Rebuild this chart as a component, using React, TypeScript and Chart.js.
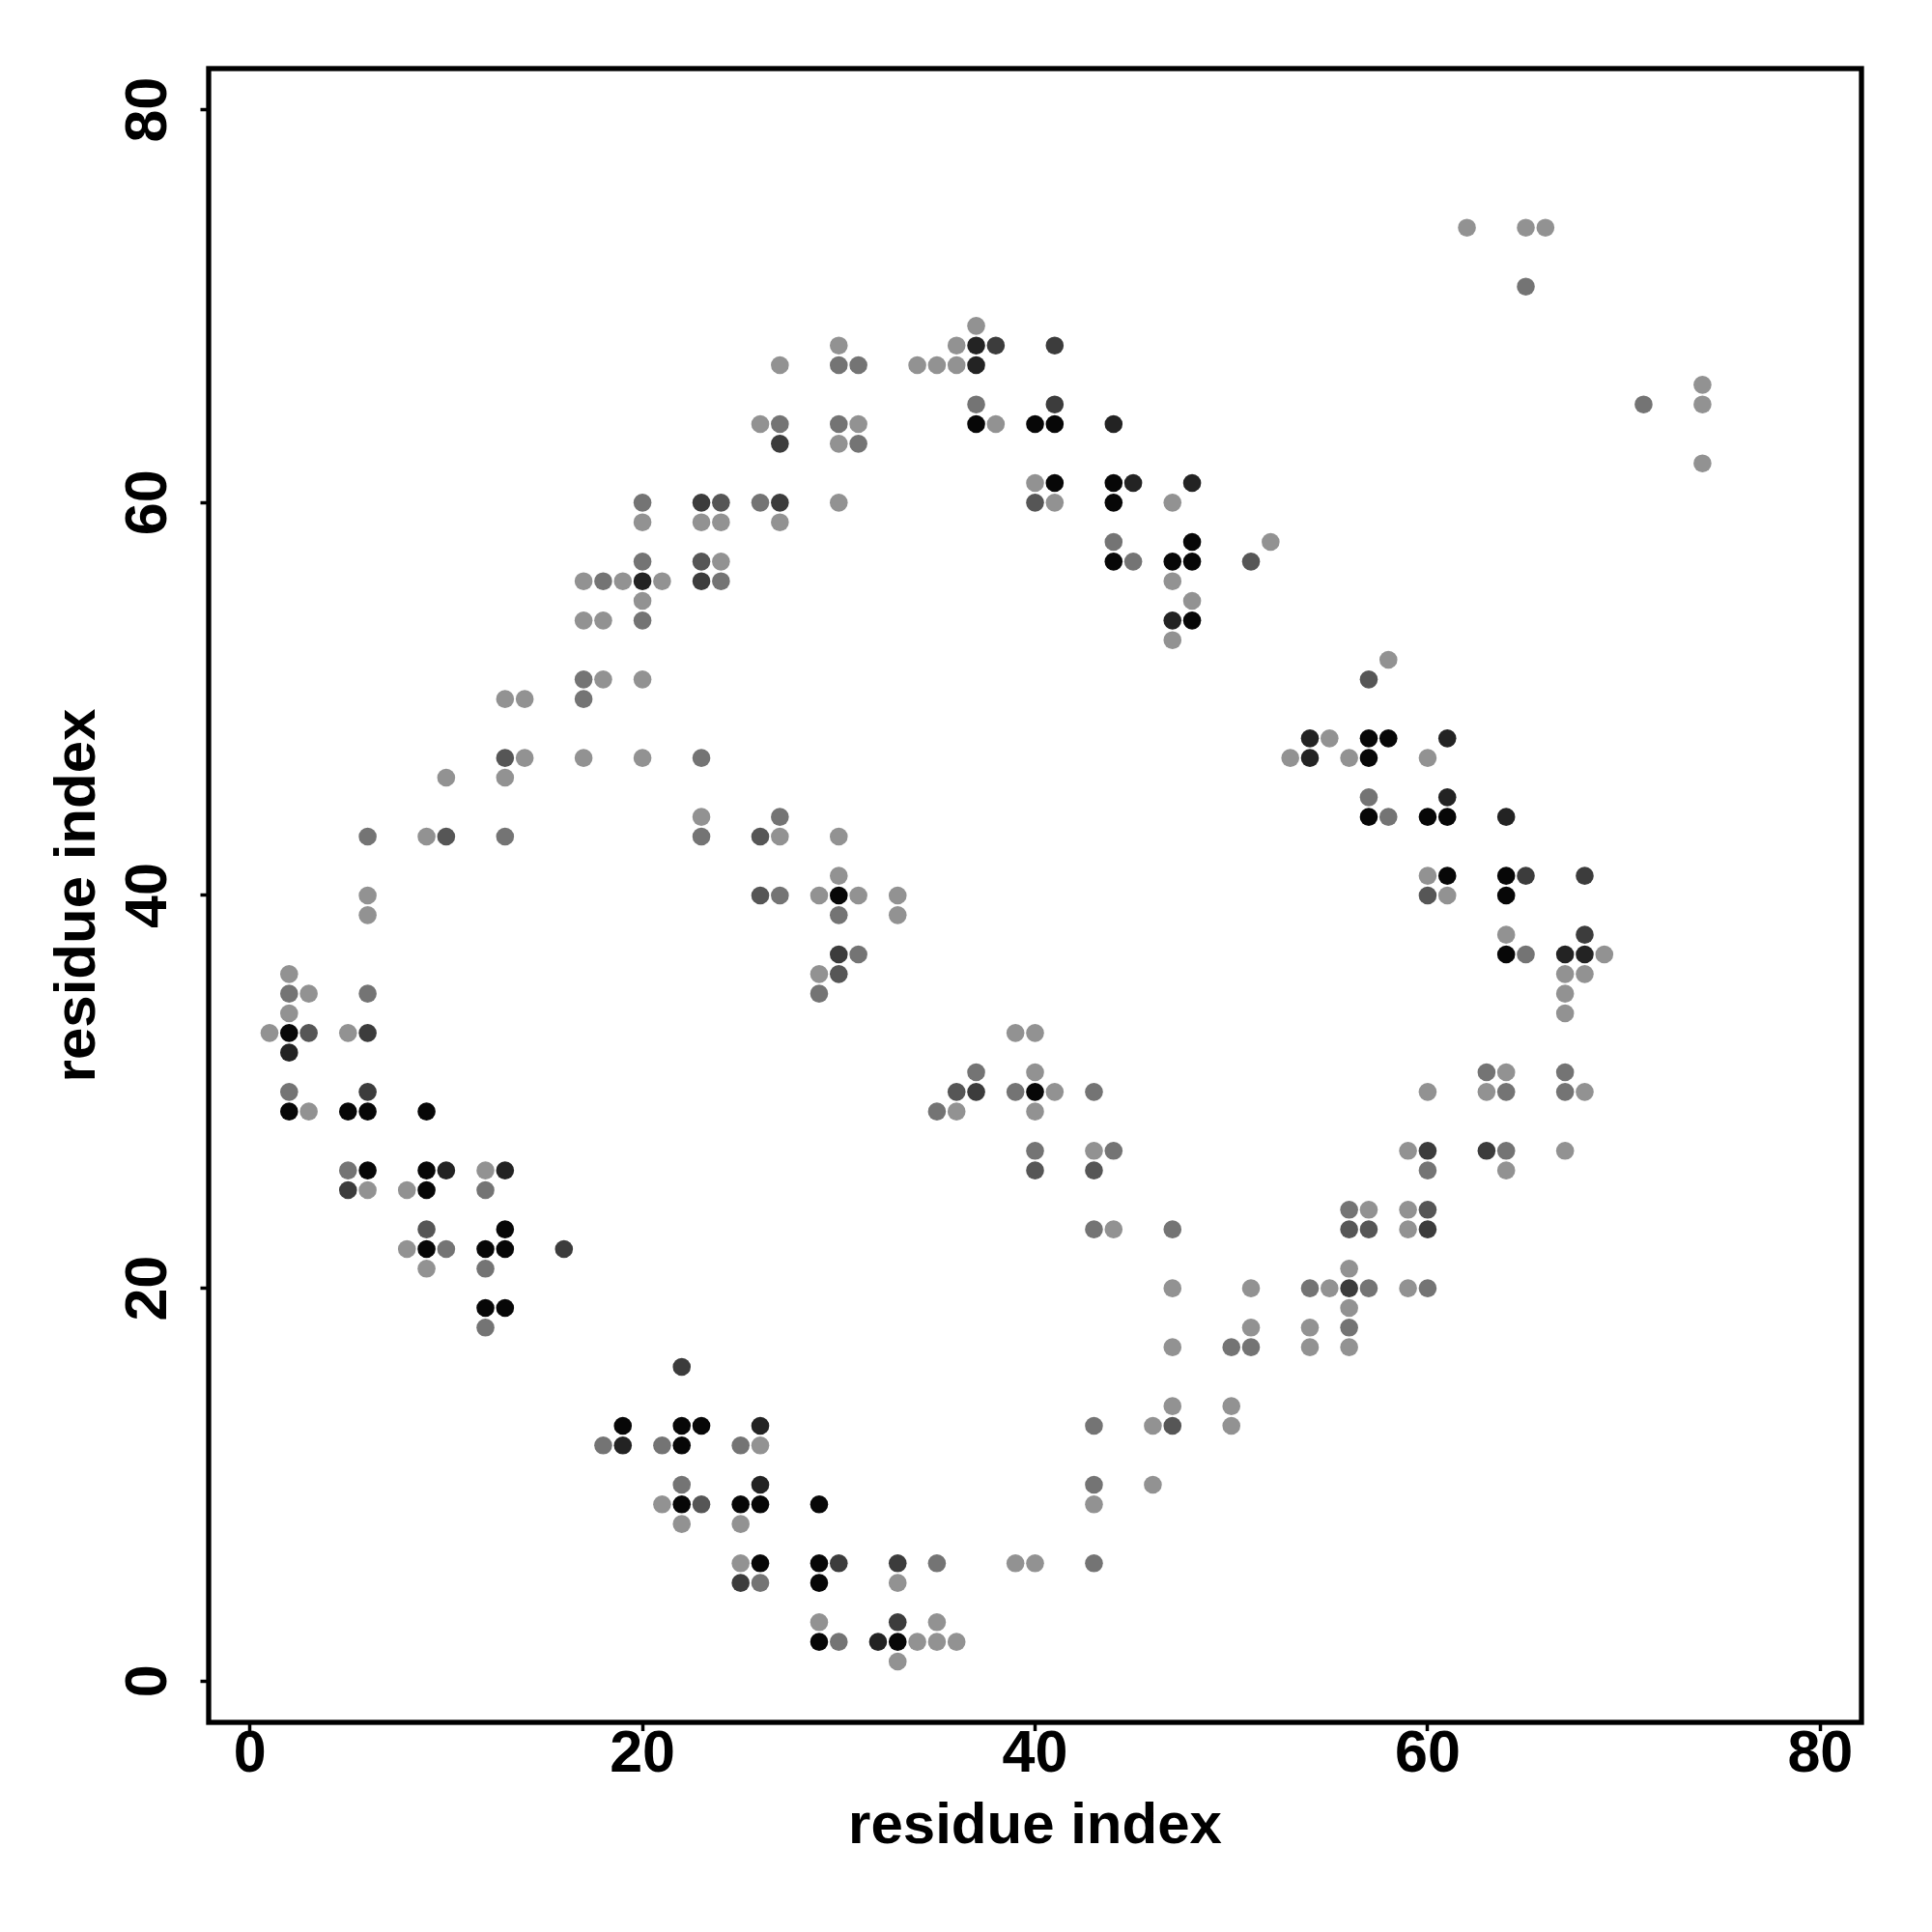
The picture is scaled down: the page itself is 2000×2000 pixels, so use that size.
import React, { useEffect, useRef } from "react";
import { Chart, registerables } from "chart.js";

Chart.register(...registerables);

// ---- axis setup ----
const xTickValues = [0, 20, 40, 60, 80];
const yTickValues = [0, 20, 40, 60, 80];
const axisMin = -2.1;
const axisMax = 82.1;
const xAxisTitle = "residue index";
const yAxisTitle = "residue index";

// ---- contact points, grouped by grey level (darkest first) ----
const level0: number[][] = [
  [37, 64], [40, 64], [41, 64], [41, 61], [44, 61], [44, 60], [48, 58], [44, 57], [47, 57], [48, 57], [48, 54],
  [2, 33], [2, 29], [5, 29], [6, 29], [9, 29], [6, 26], [9, 26],
  [9, 25], [13, 23], [9, 22], [12, 22], [13, 22], [12, 19], [13, 19], [19, 13], [22, 13], [23, 13], [22, 12],
  [22, 9], [25, 9], [26, 9], [26, 6],
  [29, 9], [29, 6], [29, 5], [29, 2], [33, 2],
  [30, 40], [40, 30],
  [57, 48], [58, 48], [57, 47], [57, 44], [60, 44], [61, 44], [61, 41], [64, 41], [64, 40], [64, 37],
];

const level1: number[][] = [
  [37, 68], [37, 67], [44, 64], [45, 61], [48, 61], [47, 54],
  [20, 56],
  [2, 32], [10, 26], [13, 26],
  [26, 13], [19, 12], [26, 10],
  [32, 2],
  [54, 48], [61, 48], [54, 47], [61, 45], [64, 44], [67, 37], [68, 37],
];

const level2: number[][] = [
  [38, 68], [41, 68], [41, 65], [27, 63], [27, 60],
  [23, 60], [23, 56],
  [6, 33], [6, 30],
  [5, 25], [16, 22], [22, 16], [25, 5],
  [30, 6], [33, 6], [33, 3],
  [30, 37], [37, 30],
  [65, 41], [68, 41], [68, 38], [60, 27], [63, 27],
  [56, 20], [60, 23],
];

const level3: number[][] = [
  [40, 60], [51, 57],
  [24, 60], [23, 57],
  [13, 47], [10, 43], [26, 43], [26, 40], [3, 33],
  [9, 23], [23, 9],
  [47, 13],
  [30, 36], [36, 30], [40, 26], [43, 26],
  [57, 51], [60, 40],
  [60, 24], [56, 23], [57, 23],
];

const level4: number[][] = [
  [65, 71], [71, 65],
  [30, 67], [31, 67], [37, 65], [27, 64], [30, 64], [31, 63], [26, 60], [44, 58], [45, 57],
  [20, 60], [20, 57], [18, 56], [24, 56], [20, 54], [17, 51],
  [17, 50], [23, 47], [27, 44], [6, 43], [13, 43], [23, 43], [27, 40], [2, 35], [6, 35], [2, 30], [5, 26],
  [12, 25], [10, 22], [12, 21], [12, 18], [18, 12], [21, 12], [25, 12], [22, 10], [26, 5],
  [43, 23], [47, 23], [50, 17], [51, 17], [43, 13], [43, 10], [35, 6], [43, 6], [30, 2],
  [30, 39], [31, 37], [29, 35], [37, 31], [39, 30], [43, 30], [35, 29], [40, 27], [44, 27],
  [57, 45], [58, 44], [65, 37], [63, 31], [67, 31], [64, 30], [67, 30], [64, 27], [60, 26],
  [56, 24], [54, 20], [57, 20], [60, 20], [56, 18],
];

const level5: number[][] = [
  [62, 74], [65, 74], [66, 74], [74, 66], [74, 65], [74, 62],
  [37, 69], [30, 68], [36, 68], [27, 67], [34, 67], [35, 67], [36, 67], [26, 64], [31, 64], [38, 64], [30, 63],
  [40, 61], [30, 60], [41, 60], [47, 60], [27, 59], [52, 58], [47, 56], [48, 55], [47, 53],
  [20, 59], [23, 59], [24, 59], [24, 57], [17, 56], [19, 56], [21, 56], [20, 55], [17, 54], [18, 54], [18, 51], [20, 51],
  [13, 50], [14, 50], [14, 47], [17, 47], [20, 47], [10, 46], [13, 46], [23, 44], [9, 43], [27, 43], [6, 40], [6, 39],
  [2, 36], [3, 35], [2, 34], [1, 33], [5, 33], [3, 29], [12, 26],
  [6, 25], [8, 25], [8, 22], [9, 21], [26, 12], [21, 9], [22, 8], [25, 8], [25, 6],
  [44, 23], [47, 20], [51, 20], [51, 18], [47, 17], [47, 14], [50, 14], [46, 13], [50, 13], [46, 10], [43, 9],
  [39, 6], [40, 6], [33, 5], [29, 3], [35, 3], [34, 2], [35, 2], [36, 2], [33, 1],
  [30, 43], [30, 41], [29, 40], [31, 40], [33, 40], [33, 39], [29, 36], [39, 33], [40, 33], [40, 31], [41, 30],
  [36, 29], [40, 29], [43, 27],
  [58, 52], [55, 48], [53, 47], [56, 47], [60, 47], [60, 41], [61, 40], [64, 38], [69, 37], [67, 36], [68, 36],
  [67, 35], [67, 34], [64, 31], [60, 30], [63, 30], [68, 30], [59, 27], [67, 27], [64, 26],
  [57, 24], [59, 24], [59, 23], [56, 21], [55, 20], [59, 20], [56, 19], [54, 18], [54, 17], [56, 17],
];

const levels = [level0, level1, level2, level3, level4, level5];
const levelColors = ["#070707", "#232323", "#3c3c3c", "#565656", "#747474", "#929292"];

const FONT = '"Liberation Sans", Arial, Helvetica, sans-serif';

const boxPlugin = {
  id: "plotBox",
  afterDraw(chart: any) {
    const { ctx, chartArea } = chart;
    const { left, top, right, bottom } = chartArea;
    ctx.save();
    ctx.lineWidth = 5.3;
    ctx.strokeStyle = "#000";
    ctx.strokeRect(left, top, right - left, bottom - top);
    ctx.restore();
  },
};

const yTickLabelPlugin = {
  id: "yTickLabels",
  afterDraw(chart: any) {
    const { ctx, chartArea } = chart;
    const scale = chart.scales.y;
    ctx.save();
    ctx.fillStyle = "#000";
    ctx.font = `bold 61px ${FONT}`;
    ctx.textAlign = "center";
    ctx.textBaseline = "alphabetic";
    for (const v of yTickValues) {
      const py = scale.getPixelForValue(v);
      ctx.save();
      ctx.translate(chartArea.left - 44, py);
      ctx.rotate(-Math.PI / 2);
      ctx.fillText(String(v), 0, 0);
      ctx.restore();
    }
    ctx.restore();
  },
};

export default function App() {
  const canvasRef = useRef<HTMLCanvasElement | null>(null);

  useEffect(() => {
    document.body.style.margin = "0";
    const canvas = canvasRef.current;
    if (!canvas) return;

    const datasets = levels.map((pts, i) => ({
      label: `level ${i}`,
      data: pts.map(([x, y]) => ({ x, y })),
      backgroundColor: levelColors[i],
      borderWidth: 0,
      pointRadius: 9.3,
      pointHoverRadius: 9.3,
      pointStyle: "circle",
    }));

    const chart = new Chart(canvas, {
      type: "scatter",
      data: { datasets },
      plugins: [boxPlugin, yTickLabelPlugin],
      options: {
        animation: false,
        responsive: false,
        events: [],
        layout: { padding: { left: 0, top: 71, right: 73, bottom: 0 } },
        plugins: {
          legend: { display: false },
          tooltip: { enabled: false },
        },
        scales: {
          x: {
            type: "linear",
            position: "bottom",
            min: axisMin,
            max: axisMax,
            afterBuildTicks: (s: any) => {
              s.ticks = xTickValues.map((v) => ({ value: v }));
            },
            afterFit: (s: any) => {
              s.height = 217;
            },
            grid: {
              drawOnChartArea: false,
              drawTicks: true,
              tickLength: 9,
              tickWidth: 3.5,
              tickColor: "#000",
            },
            border: { display: false },
            ticks: {
              autoSkip: false,
              maxRotation: 0,
              minRotation: 0,
              padding: -11,
              color: "#000",
              font: { family: FONT, size: 61, weight: "bold" },
            },
            title: {
              display: true,
              text: xAxisTitle,
              color: "#000",
              font: { family: FONT, size: 60, weight: "bold" },
              padding: { top: 0, bottom: 73 },
            },
          },
          y: {
            type: "linear",
            position: "left",
            min: axisMin,
            max: axisMax,
            afterBuildTicks: (s: any) => {
              s.ticks = yTickValues.map((v) => ({ value: v }));
            },
            afterFit: (s: any) => {
              s.width = 216;
            },
            grid: {
              drawOnChartArea: false,
              drawTicks: true,
              tickLength: 8.5,
              tickWidth: 3.5,
              tickColor: "#000",
            },
            border: { display: false },
            ticks: { display: false },
            title: {
              display: true,
              text: yAxisTitle,
              color: "#000",
              font: { family: FONT, size: 60, weight: "bold" },
              padding: { top: 45, bottom: 0 },
            },
          },
        },
      },
    } as any);

    return () => {
      chart.destroy();
    };
  }, []);

  return (
    <div style={{ position: "absolute", left: 0, top: 0, width: 2000, height: 2000, background: "#fff" }}>
      <canvas ref={canvasRef} width={2000} height={2000} style={{ width: 2000, height: 2000, display: "block" }} />
    </div>
  );
}
